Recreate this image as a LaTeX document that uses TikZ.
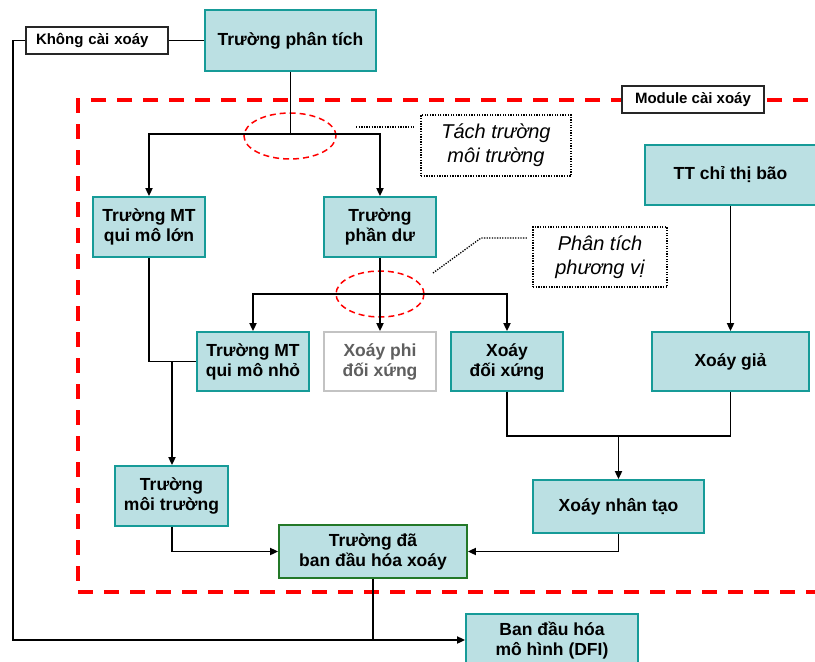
\documentclass[tikz,border=0pt]{standalone}
\usepackage{fontspec}
\setmainfont{Liberation Sans}
\usetikzlibrary{arrows.meta,shapes.geometric}
\definecolor{boxfill}{RGB}{187,224,227}
\definecolor{boxedge}{RGB}{22,155,152}
\definecolor{greenedge}{RGB}{35,120,40}
\definecolor{grayedge}{RGB}{195,195,195}
\definecolor{graytext}{RGB}{95,95,95}
\definecolor{modred}{RGB}{255,0,0}
\tikzset{
  cbox/.style={rectangle, draw=boxedge, fill=boxfill, line width=1.8pt, inner sep=0pt,
    align=center, font=\bfseries\fontsize{17.5}{20}\selectfont},
  greybox/.style={cbox, draw=grayedge, fill=white, text=graytext},
  greenbox/.style={cbox, draw=greenedge},
  labbox/.style={rectangle, draw=black!85, fill=white, line width=1.2pt, inner sep=0pt,
    font=\bfseries\fontsize{15}{18}\selectfont},
  notebox/.style={rectangle, draw=black, dash pattern=on 1.3pt off 1.3pt, line width=1.3pt, fill=white, inner sep=0pt,
    align=center, font=\itshape\fontsize{20}{24}\selectfont},
  conn/.style={draw=black, line width=1.8pt},
  arr/.style={conn, -{Triangle[length=8pt,width=7pt]}},
  dots/.style={draw=black, dash pattern=on 1.3pt off 1.3pt, line width=1.3pt},
  redring/.style={ellipse, draw=modred, dash pattern=on 6pt off 4pt, line width=1.5pt, inner sep=0pt},
  modframe/.style={draw=modred, dash pattern=on 15pt off 11pt, line width=4.5pt}
}
\begin{document}
\begin{tikzpicture}[x=1pt,y=-1pt]
\useasboundingbox (0,0) rectangle (815,662);
\clip (0,0) rectangle (815,662);
\fill[white] (0,0) rectangle (815,662);

% module frame
\draw[modframe] (860,100) -- (78,100) -- (78,592) -- (860,592);

% nodes
\node[cbox, minimum width=171, minimum height=61] (tpt) at (290.5,40.5) {Trường phân tích};
\node[labbox, minimum width=142, minimum height=27, text width=122] (kcx) at (97,40.5) {Không cài xoáy};
\node[labbox, minimum width=142, minimum height=27] (mod) at (693,99.5) {Module cài xoáy};
\node[cbox, minimum width=112, minimum height=60] (mtl) at (149,227) {Trường MT\\qui mô lớn};
\node[cbox, minimum width=112, minimum height=60] (tpd) at (380,227) {Trường\\phần dư};
\node[notebox, minimum width=150, minimum height=61] (tach) at (496,145.5) {Tách trường\\môi trường};
\node[cbox, minimum width=171, minimum height=60] (ttb) at (730.5,175) {TT chỉ thị bão};
\node[notebox, minimum width=134, minimum height=60] (ptpv) at (600,257) {Phân tích\\phương vị};
\node[cbox, minimum width=112, minimum height=59] (mtn) at (253,361.5) {Trường MT\\qui mô nhỏ};
\node[greybox, minimum width=112, minimum height=59] (xpd) at (380,361.5) {Xoáy phi\\đối xứng};
\node[cbox, minimum width=112, minimum height=59] (xdx) at (507,361.5) {Xoáy\\đối xứng};
\node[cbox, minimum width=157, minimum height=59] (xg) at (730.5,361.5) {Xoáy giả};
\node[cbox, minimum width=171, minimum height=53] (xnt) at (618.5,506.5) {Xoáy nhân tạo};
\node[cbox, minimum width=113, minimum height=60] (tmt) at (171.5,496) {Trường\\môi trường};
\node[greenbox, minimum width=188, minimum height=53] (tbd) at (373,551.5) {Trường đã\\ban đầu hóa xoáy};
\node[cbox, minimum width=172, minimum height=54] (bdh) at (552,641) {Ban đầu hóa\\mô hình (DFI)};

% red rings
\node[redring, minimum width=92, minimum height=46] (e1) at (290,136) {};
\node[redring, minimum width=88, minimum height=46] (e2) at (380,294) {};

% connectors
\draw[conn] (tpt.west) -- (kcx.east);
\coordinate (j1) at (290.5,134);
\draw[conn] (tpt.south) -- (j1);
\draw[arr] (j1) -| (mtl.north);
\draw[arr] (j1) -| (tpd.north);

\coordinate (j2) at (380,294);
\draw[arr] (tpd.south) -- (xpd.north);
\draw[arr] (j2) -| (mtn.north);
\draw[arr] (j2) -| (xdx.north);

\draw[arr] (ttb.south) -- (xg.north);

\coordinate (j3) at (172,362);
\draw[conn] (mtl.south) |- (mtn.west);
\draw[arr] (j3) -- (tmt.north -| j3);

\coordinate (j4) at (618.5,436);
\draw[conn] (xdx.south) |- (j4) -| (xg.south);
\draw[arr] (j4) -- (xnt.north);

\draw[arr] (xnt.south) |- (tbd.east);
\draw[arr] (tmt.south -| j3) |- (tbd.west);

\coordinate (j5) at (13,640);
\draw[conn] (tbd.south) -- (tbd.south |- j5);
\draw[arr] (kcx.west) -| (j5) -- (j5 -| bdh.west);

% dotted leaders
\coordinate (d1) at (356,127);
\draw[dots] (d1) -- (414,127);
\coordinate (d2) at (433,273);
\draw[dots] (d2) -- (481,238) -- (527,238);
\end{tikzpicture}
\end{document}
